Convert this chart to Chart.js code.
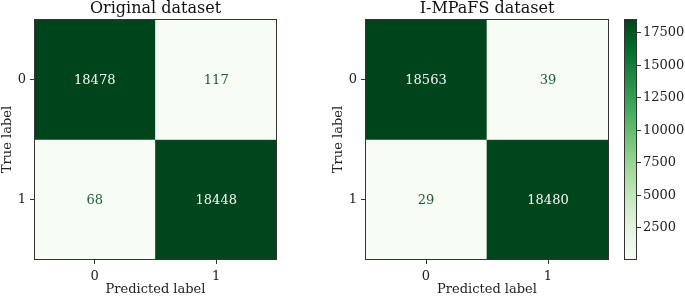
<!DOCTYPE html>
<html>
<head>
<meta charset="utf-8">
<script src="https://cdn.jsdelivr.net/npm/chart.js@4"></script>
<style>
  html, body { margin: 0; padding: 0; background: #fff; }
  #wrap { position: relative; width: 685px; height: 297px; overflow: hidden; }
  .box { position: absolute; top: 0; height: 297px; }
</style>
</head>
<body>
<div id="wrap">
  <div class="box" style="left:0;width:277px"><canvas id="cm-original"></canvas></div>
  <div class="box" style="left:331px;width:278px"><canvas id="cm-impafs"></canvas></div>
  <div class="box" style="left:600px;width:85px"><canvas id="colorbar"></canvas></div>
</div>
<script>
// class labels (true / predicted)
const CLASSES = ['0', '1'];
// confusion matrices, rows = true label, cols = predicted label
const ORIGINAL_ROW0 = [18478, 117];
const ORIGINAL_ROW1 = [68, 18448];
const IMPAFS_ROW0 = [18563, 39];
const IMPAFS_ROW1 = [29, 18480];
const TITLES = ['Original dataset', 'I-MPaFS dataset'];
const COLORBAR_TICKS = [2500, 5000, 7500, 10000, 12500, 15000, 17500];

// matplotlib "Greens"
const GREENS = ['#f7fcf5', '#e5f5e0', '#c7e9c0', '#a1d99b', '#74c476', '#41ab5d', '#238b45', '#006d2c', '#00441b'];

Chart.defaults.font.family = "'DejaVu Serif', serif";
Chart.defaults.color = '#222';

function hexToRgb(h) {
  return [parseInt(h.slice(1, 3), 16), parseInt(h.slice(3, 5), 16), parseInt(h.slice(5, 7), 16)];
}

function greens(t) {
  t = Math.max(0, Math.min(1, t));
  const pos = t * (GREENS.length - 1);
  const i = Math.min(Math.floor(pos), GREENS.length - 2);
  const f = pos - i;
  const a = hexToRgb(GREENS[i]), b = hexToRgb(GREENS[i + 1]);
  const c = a.map((v, k) => Math.round(v + (b[k] - v) * f));
  return `rgb(${c[0]}, ${c[1]}, ${c[2]})`;
}

// frame round the plotting area
const framePlugin = {
  id: 'frame',
  afterDraw(chart) {
    const { ctx, chartArea: a } = chart;
    ctx.save();
    ctx.strokeStyle = '#333';
    ctx.lineWidth = 1;
    ctx.strokeRect(Math.round(a.left) + 0.5, Math.round(a.top) + 0.5,
      Math.round(a.right - a.left) - 1, Math.round(a.bottom - a.top) - 1);
    ctx.restore();
  }
};

// count written in each cell
const cellTextPlugin = {
  id: 'cellText',
  afterDatasetsDraw(chart, args, opts) {
    const { ctx, scales } = chart;
    const m = opts.matrix;
    const mid = (opts.min + opts.max) / 2;
    ctx.save();
    ctx.font = "13px 'DejaVu Serif', serif";
    ctx.textAlign = 'center';
    ctx.textBaseline = 'middle';
    m.forEach((row, i) => {
      row.forEach((v, j) => {
        ctx.fillStyle = v > mid ? GREENS[0] : '#1b5e32';
        ctx.fillText(String(v), scales.x.getPixelForValue(j), scales.y.getPixelForValue(i) + 1);
      });
    });
    ctx.restore();
  }
};

function makeMatrix(canvasId, title, matrix) {
  const flat = matrix.flat();
  const min = Math.min(...flat), max = Math.max(...flat);

  const datasets = matrix.map((row, i) => ({
    label: 'True ' + CLASSES[i],
    data: row.map(() => [i - 0.5, i + 0.5]),
    backgroundColor: row.map(v => greens((v - min) / (max - min))),
    borderWidth: 0,
    barPercentage: 1,
    categoryPercentage: 1,
    grouped: false
  }));

  new Chart(document.getElementById(canvasId), {
    type: 'bar',
    data: { labels: CLASSES, datasets },
    options: {
      responsive: true,
      maintainAspectRatio: false,
      animation: false,
      layout: { padding: 0 },
      scales: {
        x: {
          grid: { offset: false, drawOnChartArea: false, drawTicks: true, tickLength: 4, color: '#333' },
          border: { display: false },
          ticks: { font: { size: 13 }, padding: 5, maxRotation: 0 },
          title: { display: true, text: 'Predicted label', font: { size: 13 }, padding: 0 },
          afterFit(scale) { scale.height = 37; }
        },
        y: {
          type: 'linear',
          min: -0.5,
          max: 1.5,
          reverse: true,
          grid: { drawOnChartArea: false, drawTicks: true, tickLength: 4, color: '#333' },
          border: { display: false },
          afterBuildTicks(scale) { scale.ticks = CLASSES.map((c, i) => ({ value: i })); },
          ticks: { font: { size: 13 }, padding: 4, callback: v => CLASSES[v] },
          title: { display: true, text: 'True label', font: { size: 13 }, padding: 0 },
          afterFit(scale) { scale.width = 34; }
        }
      },
      plugins: {
        legend: { display: false },
        tooltip: { enabled: false },
        title: {
          display: true,
          text: title,
          fullSize: false,
          color: '#111',
          font: { size: 16, weight: 'normal', lineHeight: 1.125 },
          padding: { top: 0, bottom: 1 }
        },
        cellText: { matrix, min, max }
      }
    },
    plugins: [framePlugin, cellTextPlugin]
  });
}

makeMatrix('cm-original', TITLES[0], [ORIGINAL_ROW0, ORIGINAL_ROW1]);
makeMatrix('cm-impafs', TITLES[1], [IMPAFS_ROW0, IMPAFS_ROW1]);

// colour bar of the right-hand matrix
const cbFlat = [IMPAFS_ROW0, IMPAFS_ROW1].flat();
const cbMin = Math.min(...cbFlat), cbMax = Math.max(...cbFlat);

new Chart(document.getElementById('colorbar'), {
  type: 'bar',
  data: {
    labels: [''],
    datasets: [{
      data: [[cbMin, cbMax]],
      borderWidth: 0,
      barPercentage: 1,
      categoryPercentage: 1,
      backgroundColor(context) {
        const { ctx, chartArea } = context.chart;
        if (!chartArea) return GREENS[4];
        const g = ctx.createLinearGradient(0, chartArea.bottom, 0, chartArea.top);
        GREENS.forEach((c, k) => g.addColorStop(k / (GREENS.length - 1), c));
        return g;
      }
    }]
  },
  options: {
    responsive: true,
    maintainAspectRatio: false,
    animation: false,
    layout: { padding: { left: 24, top: 19, bottom: 37, right: 0 } },
    scales: {
      x: { display: false },
      y: {
        position: 'right',
        min: cbMin,
        max: cbMax,
        grid: { drawOnChartArea: false, drawTicks: true, tickLength: 4, color: '#333' },
        border: { display: false },
        afterBuildTicks(scale) { scale.ticks = COLORBAR_TICKS.map(v => ({ value: v })); },
        ticks: { font: { size: 13 }, padding: 2, callback: v => String(v) },
        afterFit(scale) { scale.width = 48; }
      }
    },
    plugins: { legend: { display: false }, tooltip: { enabled: false } }
  },
  plugins: [framePlugin]
});
</script>
</body>
</html>
